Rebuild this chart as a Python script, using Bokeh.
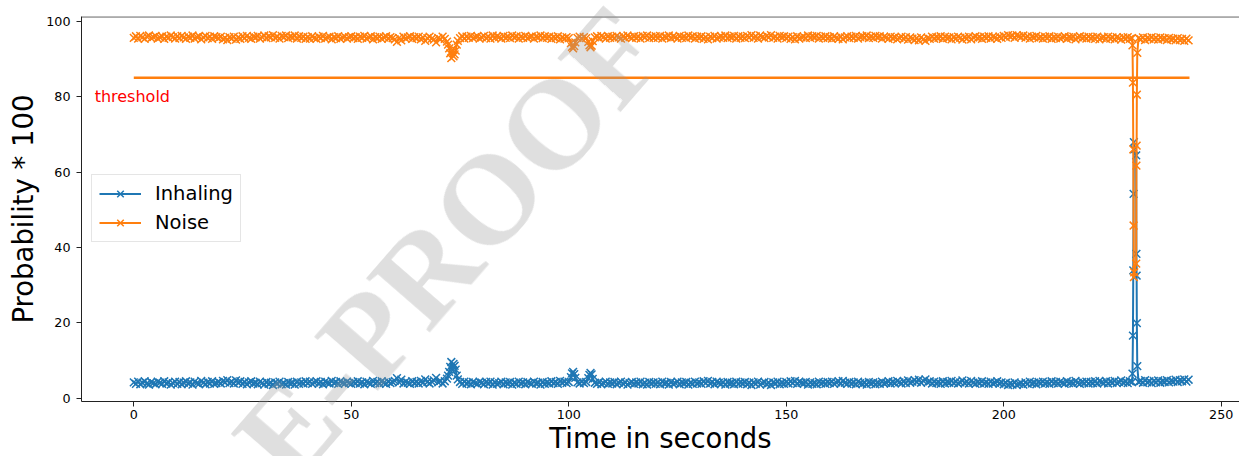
import numpy as np
from bokeh.plotting import figure
from bokeh.layouts import column
from bokeh.models import Range1d, Label, Legend, LegendItem, Span, FixedTicker, Div
from bokeh.embed import file_html
from bokeh.resources import INLINE

# ---------------- data ----------------
# samples every 0.5 s (0 .. 242.5 s)
time_base = [i * 0.5 for i in range(486)]

inhaling_base = [
    4.2, 3.8, 4.4, 3.7, 4.1, 4.5, 3.9, 3.6, 4.3, 4.0, 3.7, 4.4, 4.1, 3.8, 4.5, 3.9, 4.2, 3.6, 4.0, 4.4,
    3.8, 4.3, 3.7, 4.1, 4.5, 3.9, 4.2, 3.6, 4.4, 4.0, 3.8, 4.6, 4.1, 3.7, 4.3, 3.9, 4.5, 3.8, 4.0, 4.3,
    3.9, 4.6, 4.2, 4.8, 4.0, 4.4, 3.9, 4.7, 4.1, 4.5, 3.8, 4.3, 3.7, 4.2, 4.5, 3.9, 4.1, 3.7, 4.4, 4.0,
    3.6, 4.3, 3.8, 4.1, 3.5, 4.2, 3.9, 4.4, 3.7, 4.0, 3.6, 4.3, 3.9, 4.1, 3.6, 4.4, 3.8, 4.2, 3.9, 4.5,
    4.0, 4.4, 3.8, 4.2, 4.5, 3.9, 4.3, 3.7, 4.4, 4.1, 3.9, 4.6, 4.0, 4.3, 3.8, 4.5, 4.1, 3.9, 4.4, 4.0,
    3.8, 4.3, 4.0, 4.5, 3.9, 4.2, 3.7, 4.4, 4.1, 3.8, 4.6, 4.0, 4.3, 3.9, 4.5, 4.1, 3.8, 4.4, 4.0, 4.3,
    4.6, 5.3, 4.2, 4.9, 3.9, 4.4, 4.1, 3.8, 4.5, 4.0, 4.3, 3.9, 4.6, 4.1, 5.0, 4.3, 3.9, 4.4, 4.7, 5.4,
    4.2, 4.6, 3.9, 4.5, 5.2, 7.0, 9.6, 9.1, 7.6, 5.0, 4.3, 3.8, 4.4, 3.9, 4.2, 3.7, 4.3, 4.0, 3.8, 4.4,
    4.1, 3.7, 4.3, 3.9, 4.4, 3.6, 4.2, 3.8, 4.0, 4.4, 3.7, 4.2, 3.9, 4.3, 3.6, 4.1, 3.8, 4.4, 3.9, 4.2,
    3.7, 4.3, 4.0, 3.8, 4.4, 3.9, 4.1, 3.6, 4.3, 3.8, 4.2, 3.9, 4.5, 4.0, 4.3, 3.8, 4.6, 4.1, 4.4, 4.0,
    4.3, 5.6, 7.0, 5.4, 4.2, 3.9, 4.4, 4.0, 4.3, 5.3, 6.7, 5.1, 4.1, 3.8, 4.3, 3.7, 4.0, 4.4, 3.8, 4.2,
    3.9, 4.3, 3.7, 4.1, 4.4, 3.8, 4.2, 3.6, 4.0, 4.3, 3.8, 4.2, 3.9, 4.4, 3.7, 4.1, 3.6, 4.3, 3.9, 4.2,
    3.8, 4.2, 3.7, 4.4, 3.9, 4.1, 3.6, 4.3, 3.8, 4.0, 4.4, 3.7, 4.2, 3.9, 4.3, 3.6, 4.1, 3.8, 4.4, 3.9,
    4.2, 3.8, 4.5, 4.0, 4.6, 3.9, 4.3, 3.7, 4.4, 4.1, 3.8, 4.2, 3.6, 4.3, 3.9, 4.1, 3.7, 4.4, 3.8, 4.2,
    3.9, 4.3, 3.7, 4.1, 3.5, 4.2, 3.8, 4.4, 3.6, 4.0, 4.3, 3.7, 4.1, 3.5, 4.2, 3.9, 4.4, 3.7, 4.1, 3.8,
    4.3, 3.9, 4.5, 4.0, 4.6, 3.8, 4.4, 4.1, 3.9, 4.3, 3.6, 4.2, 3.8, 4.0, 3.7, 4.4, 3.9, 4.2, 3.8, 4.3,
    4.0, 4.4, 3.8, 4.2, 4.5, 3.9, 4.6, 4.1, 3.8, 4.3, 3.9, 4.2, 3.7, 4.4, 4.0, 3.8, 4.1, 3.6, 4.3, 3.9,
    4.2, 3.7, 4.0, 3.8, 4.4, 3.9, 4.1, 4.5, 3.9, 4.3, 4.0, 4.6, 4.2, 3.9, 4.5, 4.0, 4.7, 4.1, 4.4, 4.8,
    4.3, 4.9, 4.1, 4.6, 5.0, 4.2, 4.5, 3.9, 4.4, 4.0, 4.2, 3.8, 4.5, 3.9, 4.3, 4.1, 4.6, 4.0, 4.4, 3.9,
    4.2, 4.7, 4.0, 4.4, 3.9, 4.6, 4.1, 3.8, 4.3, 4.0, 4.5, 3.9, 4.2, 3.8, 4.4, 3.9, 4.1, 4.5, 3.9, 4.2,
    3.7, 4.1, 3.5, 3.9, 3.6, 4.2, 3.5, 3.8, 4.0, 3.6, 4.2, 3.8, 4.4, 3.9, 4.1, 3.7, 4.3, 4.0, 4.4, 3.9,
    4.2, 3.8, 4.5, 4.0, 4.3, 3.9, 4.4, 4.1, 3.8, 4.5, 4.0, 4.2, 3.9, 4.6, 4.1, 3.8, 4.3, 4.0, 4.4, 3.9,
    4.3, 4.0, 4.5, 3.9, 4.6, 4.2, 4.0, 4.5, 3.9, 4.4, 4.1, 4.6, 4.0, 4.3, 4.7, 4.1, 4.4, 4.0, 4.5, 4.3,
    66.0, 38.3, 4.3, 4.6, 4.1, 4.8, 4.2, 4.5, 4.0, 4.6, 4.2, 4.7, 4.1, 4.5, 4.3, 4.8, 4.2, 4.6, 4.4, 4.9,
    4.3, 4.8, 4.5, 5.0, 4.4, 4.9,
]

noise_base = [
    95.6, 96.0, 95.4, 96.1, 95.7, 95.3, 95.9, 96.2, 95.5, 95.8, 96.1, 95.4, 95.7, 96.0, 95.3, 95.9, 95.6, 96.2, 95.8, 95.4,
    96.0, 95.5, 96.1, 95.7, 95.3, 95.9, 95.6, 96.2, 95.4, 95.8, 96.0, 95.2, 95.7, 96.1, 95.5, 95.9, 95.3, 96.0, 95.8, 95.5,
    95.9, 95.2, 95.6, 95.0, 95.8, 95.4, 95.9, 95.1, 95.7, 95.3, 96.0, 95.5, 96.1, 95.6, 95.3, 95.9, 95.7, 96.1, 95.4, 95.8,
    96.2, 95.5, 96.0, 95.7, 96.3, 95.6, 95.9, 95.4, 96.1, 95.8, 96.2, 95.5, 95.9, 95.7, 96.2, 95.4, 96.0, 95.6, 95.9, 95.3,
    95.8, 95.4, 96.0, 95.6, 95.3, 95.9, 95.5, 96.1, 95.4, 95.7, 95.9, 95.2, 95.8, 95.5, 96.0, 95.3, 95.7, 95.9, 95.4, 95.8,
    96.0, 95.5, 95.8, 95.3, 95.9, 95.6, 96.1, 95.4, 95.7, 96.0, 95.2, 95.8, 95.5, 95.9, 95.3, 95.7, 96.0, 95.4, 95.8, 95.5,
    95.2, 94.5, 95.6, 94.9, 95.9, 95.4, 95.7, 96.0, 95.3, 95.8, 95.5, 95.9, 95.2, 95.7, 94.8, 95.5, 95.9, 95.4, 95.1, 94.4,
    95.6, 95.2, 95.9, 95.3, 94.6, 92.8, 90.2, 90.7, 92.2, 94.8, 95.5, 96.0, 95.4, 95.9, 95.6, 96.1, 95.5, 95.8, 96.0, 95.4,
    95.7, 96.1, 95.5, 95.9, 95.4, 96.2, 95.6, 96.0, 95.8, 95.4, 96.1, 95.6, 95.9, 95.5, 96.2, 95.7, 96.0, 95.4, 95.9, 95.6,
    96.1, 95.5, 95.8, 96.0, 95.4, 95.9, 95.7, 96.2, 95.5, 96.0, 95.6, 95.9, 95.3, 95.8, 95.5, 96.0, 95.2, 95.7, 95.4, 95.8,
    95.5, 94.2, 92.8, 94.4, 95.6, 95.9, 95.4, 95.8, 95.5, 94.5, 93.1, 94.7, 95.7, 96.0, 95.5, 96.1, 95.8, 95.4, 96.0, 95.6,
    95.9, 95.5, 96.1, 95.7, 95.4, 96.0, 95.6, 96.2, 95.8, 95.5, 96.0, 95.6, 95.9, 95.4, 96.1, 95.7, 96.2, 95.5, 95.9, 95.6,
    96.0, 95.6, 96.1, 95.4, 95.9, 95.7, 96.2, 95.5, 96.0, 95.8, 95.4, 96.1, 95.6, 95.9, 95.5, 96.2, 95.7, 96.0, 95.4, 95.9,
    95.6, 96.0, 95.3, 95.8, 95.2, 95.9, 95.5, 96.1, 95.4, 95.7, 96.0, 95.6, 96.2, 95.5, 95.9, 95.7, 96.1, 95.4, 96.0, 95.6,
    95.9, 95.5, 96.1, 95.7, 96.3, 95.6, 96.0, 95.4, 96.2, 95.8, 95.5, 96.1, 95.7, 96.3, 95.6, 95.9, 95.4, 96.1, 95.7, 96.0,
    95.5, 95.9, 95.3, 95.8, 95.2, 96.0, 95.4, 95.7, 95.9, 95.5, 96.2, 95.6, 96.0, 95.8, 96.1, 95.4, 95.9, 95.6, 96.0, 95.5,
    95.8, 95.4, 96.0, 95.6, 95.3, 95.9, 95.2, 95.7, 96.0, 95.5, 95.9, 95.6, 96.1, 95.4, 95.8, 96.0, 95.7, 96.2, 95.5, 95.9,
    95.6, 96.1, 95.8, 96.0, 95.4, 95.9, 95.7, 95.3, 95.9, 95.5, 95.8, 95.2, 95.6, 95.9, 95.3, 95.8, 95.1, 95.7, 95.4, 95.0,
    95.5, 94.9, 95.7, 95.2, 94.8, 95.6, 95.3, 95.9, 95.4, 95.8, 95.6, 96.0, 95.3, 95.9, 95.5, 95.7, 95.2, 95.8, 95.4, 95.9,
    95.6, 95.1, 95.8, 95.4, 95.9, 95.2, 95.7, 96.0, 95.5, 95.8, 95.3, 95.9, 95.6, 96.0, 95.4, 95.9, 95.7, 95.3, 95.9, 95.6,
    96.1, 95.7, 96.3, 95.9, 96.2, 95.6, 96.3, 96.0, 95.8, 96.2, 95.6, 96.0, 95.4, 95.9, 95.7, 96.1, 95.5, 95.8, 95.4, 95.9,
    95.6, 96.0, 95.3, 95.8, 95.5, 95.9, 95.4, 95.7, 96.0, 95.3, 95.8, 95.6, 95.9, 95.2, 95.7, 96.0, 95.5, 95.8, 95.4, 95.9,
    95.5, 95.8, 95.3, 95.9, 95.2, 95.6, 95.8, 95.3, 95.9, 95.4, 95.7, 95.2, 95.8, 95.5, 95.1, 95.7, 95.4, 95.8, 95.3, 95.5,
    33.4, 61.7, 95.5, 95.2, 95.7, 95.0, 95.6, 95.3, 95.8, 95.2, 95.6, 95.1, 95.7, 95.3, 95.5, 95.0, 95.6, 95.2, 95.4, 94.9,
    95.5, 95.0, 95.3, 94.8, 95.4, 94.9,
]

# extra (denser) samples during the events around 73 s, 101 s, 105 s and 230 s
time_events = [72.25, 72.75, 73.25, 73.75, 74.25, 100.75, 101.25, 104.75, 105.25,
               229.6, 229.7, 229.78, 229.85, 229.92, 230.45, 230.55, 230.6, 230.7]
inhaling_events = [6.0, 8.3, 7.4, 8.6, 6.0, 6.6, 6.4, 6.2, 6.3,
                   6.5, 16.6, 33.9, 54.2, 67.9, 64.4, 32.5, 19.9, 8.5]
noise_events = [93.8, 91.5, 92.4, 91.2, 93.8, 93.2, 93.4, 93.6, 93.5,
                93.6, 83.7, 66.0, 45.8, 32.1, 35.7, 67.0, 80.5, 91.6]

threshold_value = 85
threshold_x = [0, 242.7]
threshold_y = [threshold_value, threshold_value]

x_ticks = [0, 50, 100, 150, 200, 250]
y_ticks = [0, 20, 40, 60, 80, 100]

# merge base samples and event samples in time order
t_all = np.array(time_base + time_events, dtype=float)
order = np.argsort(t_all, kind="stable")
t = t_all[order]
inhaling = np.array(inhaling_base + inhaling_events, dtype=float)[order]
noise = np.array(noise_base + noise_events, dtype=float)[order]

BLUE = "#1f77b4"
ORANGE = "#ff7f0e"
FONT = "DejaVu Sans"

# ---------------- figure ----------------
fig = figure(
    width=1239, height=456,
    output_backend="svg", toolbar_location=None,
    x_range=Range1d(-12.02, 254.2), y_range=Range1d(-0.875, 101.25),
    min_border_left=81, min_border_right=0, min_border_top=16, min_border_bottom=55,
)
fig.background_fill_color = "white"
fig.border_fill_color = "white"
fig.outline_line_color = None
fig.xgrid.visible = False
fig.ygrid.visible = False

l1 = fig.line(t, inhaling, line_color=BLUE, line_width=2.0)
s1 = fig.scatter(t, inhaling, marker="x", size=11, line_color=BLUE, line_width=1.5)
l2 = fig.line(t, noise, line_color=ORANGE, line_width=2.0)
s2 = fig.scatter(t, noise, marker="x", size=11, line_color=ORANGE, line_width=1.5)
fig.line(threshold_x, threshold_y, line_color=ORANGE, line_width=2.6)

fig.add_layout(Label(x=-9.0, y=80.0, text="threshold", text_color="#ff0000",
                     text_font=FONT, text_font_size="16px", text_baseline="alphabetic"))

# top spine
fig.add_layout(Span(location=101.15, dimension="width", line_color="#222222", line_width=1))

# axes
for ax in (fig.xaxis, fig.yaxis):
    ax.axis_line_color = "#222222"
    ax.axis_line_width = 1
    ax.major_tick_line_color = "#222222"
    ax.major_tick_out = 5
    ax.major_tick_in = 0
    ax.minor_tick_line_color = None
    ax.major_label_text_font = FONT
    ax.major_label_text_font_size = "12.7px"
    ax.major_label_text_color = "black"
    ax.axis_label_text_font = FONT
    ax.axis_label_text_font_size = "27.5px"
    ax.axis_label_text_font_style = "normal"
    ax.axis_label_text_color = "black"
fig.xaxis.ticker = FixedTicker(ticks=x_ticks)
fig.yaxis.ticker = FixedTicker(ticks=y_ticks)
fig.xaxis.axis_label = "Time in seconds"
fig.yaxis.axis_label = "Probability * 100"
fig.xaxis.major_label_standoff = 3
fig.xaxis.axis_label_standoff = 0
fig.yaxis.major_label_standoff = 6
fig.yaxis.axis_label_standoff = 4

legend = Legend(
    items=[LegendItem(label="Inhaling", renderers=[l1, s1]),
           LegendItem(label="Noise", renderers=[l2, s2])],
    location=(10, 159),
    label_text_font=FONT, label_text_font_size="19.5px", label_text_color="black",
    glyph_width=42, glyph_height=23, label_standoff=14,
    spacing=6, padding=7, margin=0,
    border_line_color="#cccccc", border_line_width=1,
    background_fill_color="white", background_fill_alpha=0.8,
)
fig.add_layout(legend)

# watermark: a page overlay (not clipped by the plot frame)
wm_html = (
    '<div style="position:fixed;left:292px;top:383px;'
    "font:bold 128px 'Liberation Serif', 'Times New Roman', serif;line-height:1;"
    'white-space:nowrap;color:rgba(150,150,150,0.3);'
    'transform-origin:0px 107px;transform:rotate(-49deg);pointer-events:none;">'
    'E-PROOF</div>'
)
watermark = Div(text=wm_html, width=1, height=1,
                styles={"position": "absolute", "left": "0px", "top": "0px",
                        "pointer-events": "none", "z-index": "10"})

p = column(fig, watermark)
open("out.html", "w").write(file_html(p, INLINE))
